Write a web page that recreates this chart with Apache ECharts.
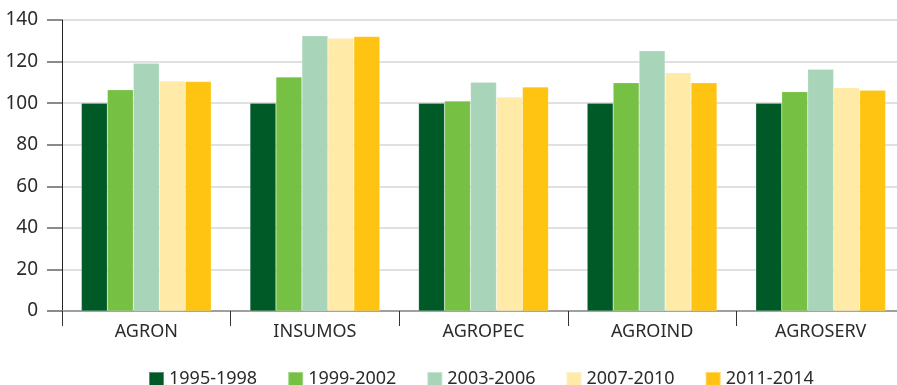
<!DOCTYPE html>
<html>
<head>
<meta charset="utf-8">
<script src="https://cdn.jsdelivr.net/npm/echarts@6/dist/echarts.min.js"></script>
<style>
  html, body { margin: 0; padding: 0; background: #fff; overflow: hidden; }
  /* canvas is a little wider than the window so the last group runs off the right edge */
  #chart { width: 905px; height: 385px; }
</style>
</head>
<body>
<div id="chart"></div>
<script>
// Sector groups on the horizontal axis
const categories = ['AGRON', 'INSUMOS', 'AGROPEC', 'AGROIND', 'AGROSERV'];

// Period series (index, 1995-1998 = 100)
const periods = ['1995-1998', '1999-2002', '2003-2006', '2007-2010', '2011-2014'];
const v1995_1998 = [100, 100, 100, 100, 100];
const v1999_2002 = [106.4, 112.6, 101.0, 109.8, 105.5];
const v2003_2006 = [119.2, 132.4, 110.1, 125.2, 116.3];
const v2007_2010 = [110.6, 131.2, 102.9, 114.6, 107.4];
const v2011_2014 = [110.4, 132.1, 107.8, 109.8, 106.2];

// Vertical axis ticks
const yMin = 0, yMax = 140, yStep = 20;

const seriesValues = [v1995_1998, v1999_2002, v2003_2006, v2007_2010, v2011_2014];
const colors = ['#005a27', '#76c043', '#a8d5b9', '#ffeaa7', '#ffc312'];
const FONT = '"Noto Sans", sans-serif';

const chart = echarts.init(document.getElementById('chart'), null, { renderer: 'canvas' });
chart.setOption({
  animation: false,
  color: colors,
  grid: { left: 62, right: 0, top: 20, bottom: 74, containLabel: false },
  legend: {
    data: periods,
    left: 148,
    top: 370,
    padding: 0,
    itemWidth: 15,
    itemHeight: 14,
    itemGap: 30,
    icon: 'rect',
    textStyle: { fontFamily: FONT, fontSize: 18, color: '#2b2b2b', lineHeight: 14 }
  },
  xAxis: {
    type: 'category',
    data: categories,
    axisLine: { lineStyle: { color: '#8a8a8a', width: 1.5 } },
    axisTick: { show: true, length: 15, lineStyle: { color: '#333', width: 1 } },
    axisLabel: { fontFamily: FONT, fontSize: 18, color: '#2b2b2b', margin: 12 }
  },
  yAxis: {
    type: 'value',
    min: yMin, max: yMax, interval: yStep,
    axisLine: { show: true, lineStyle: { color: '#222', width: 1 } },
    axisTick: { show: true, length: 15, lineStyle: { color: '#666', width: 1.5 } },
    axisLabel: { fontFamily: FONT, fontSize: 19, color: '#2b2b2b', margin: 24 },
    splitLine: { lineStyle: { color: '#d6d6d6', width: 1.5 } }
  },
  series: periods.map((name, i) => ({
    name: name,
    type: 'bar',
    data: seriesValues[i],
    barGap: '0%',
    barCategoryGap: '23%',
    itemStyle: { color: colors[i], borderColor: 'rgba(255,255,255,0.35)', borderWidth: 0.5 }
  }))
});
</script>
</body>
</html>
